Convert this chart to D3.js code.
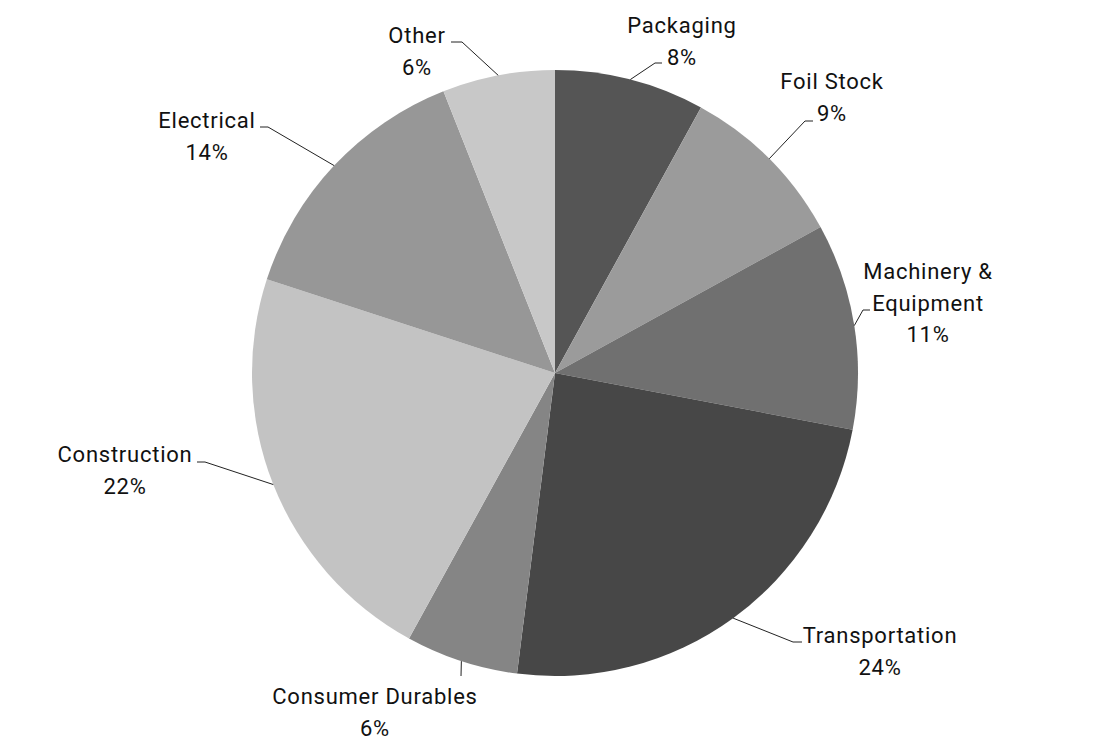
<!DOCTYPE html>
<html>
<head>
<meta charset="utf-8">
<script src="https://cdn.jsdelivr.net/npm/d3@7"></script>
<style>
  html, body { margin: 0; padding: 0; background: #fff; }
  svg { display: block; }
  text { font-family: Roboto, "DejaVu Sans", sans-serif; fill: #111; }
</style>
</head>
<body>
<svg id="chart" width="1110" height="747"></svg>
<script>
// ---- data ----
const categories = ["Packaging", "Foil Stock", "Machinery & Equipment", "Transportation",
                    "Consumer Durables", "Construction", "Electrical", "Other"];
const values = [8, 9, 11, 24, 6, 22, 14, 6];
const labelLines = [["Packaging", "8%"], ["Foil Stock", "9%"], ["Machinery &", "Equipment", "11%"],
                    ["Transportation", "24%"], ["Consumer Durables", "6%"], ["Construction", "22%"],
                    ["Electrical", "14%"], ["Other", "6%"]];

// ---- styles / layout (not data) ----
const colors = ["#555555", "#9b9b9b", "#707070", "#474747", "#858585", "#c3c3c3", "#979797", "#c8c8c8"];
// text center x, first baseline y, elbow point, horizontal end point
const labelLayout = [
  { tx: 682, ty: 33,  elbow: [655, 63],  end: [662, 63] },
  { tx: 832, ty: 89,  elbow: [805, 121], end: [813, 121] },
  { tx: 928, ty: 279, elbow: [863, 310], end: [870, 310] },
  { tx: 880, ty: 643, elbow: [793, 642], end: [802, 642] },
  { tx: 375, ty: 704, elbow: [461, 676], end: [461, 676] },
  { tx: 125, ty: 462, elbow: [205, 462], end: [197, 462] },
  { tx: 207, ty: 128, elbow: [268, 127], end: [260, 127] },
  { tx: 417, ty: 43,  elbow: [462, 42],  end: [451, 42] }
];

const cx = 555, cy = 373, R = 303, lineH = 31.5;
const svg = d3.select("#chart");
const g = svg.append("g").attr("transform", `translate(${cx},${cy})`);

const pie = d3.pie().sort(null).value(d => d.value);
const arcs = pie(categories.map((c, i) => ({ name: c, value: values[i], i })));
const arc = d3.arc().innerRadius(0).outerRadius(R);

g.selectAll("path.slice").data(arcs).enter().append("path")
  .attr("class", "slice")
  .attr("d", arc)
  .attr("fill", d => colors[d.data.i]);

// leader lines
svg.selectAll("polyline.leader").data(arcs).enter().append("polyline")
  .attr("class", "leader")
  .attr("fill", "none")
  .attr("stroke", "#222")
  .attr("stroke-width", 1)
  .attr("points", d => {
    const a = (d.startAngle + d.endAngle) / 2;
    const p0 = [cx + R * Math.sin(a), cy - R * Math.cos(a)];
    const L = labelLayout[d.data.i];
    return [p0, L.elbow, L.end].map(p => p.join(",")).join(" ");
  });

// labels
const lab = svg.selectAll("text.lbl").data(arcs).enter().append("text")
  .attr("class", "lbl")
  .attr("text-anchor", "middle")
  .attr("font-size", 22)
  .attr("letter-spacing", "0.75px");
lab.each(function(d) {
  const L = labelLayout[d.data.i];
  const t = d3.select(this);
  labelLines[d.data.i].forEach((s, k) => {
    t.append("tspan").attr("x", L.tx).attr("y", L.ty + k * lineH).text(s);
  });
});
</script>
</body>
</html>
